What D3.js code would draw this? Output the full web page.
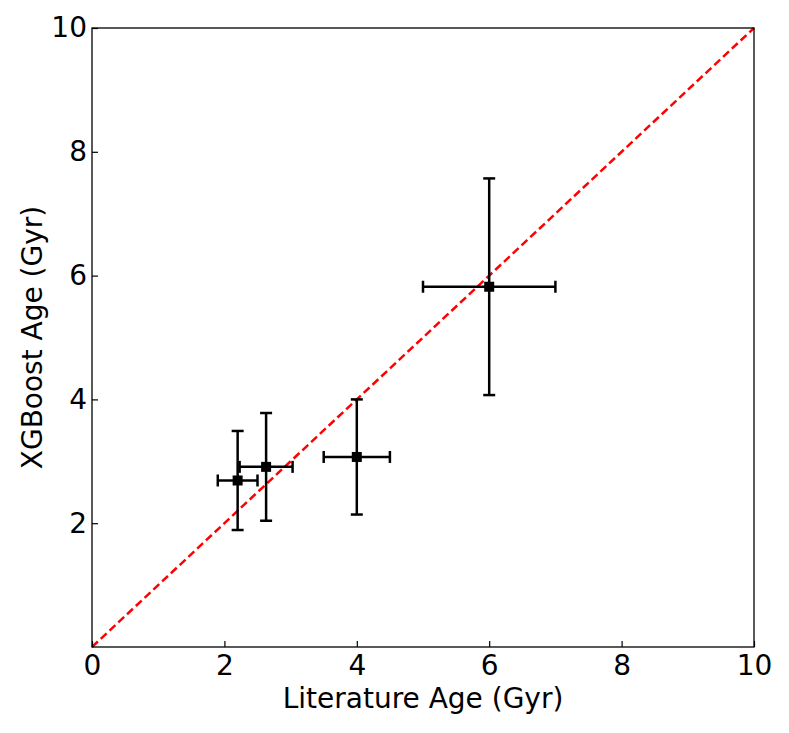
<!DOCTYPE html>
<html><head><meta charset="utf-8">
<script src="https://cdn.jsdelivr.net/npm/d3@7"></script>
<style>body{margin:0;background:#fff}svg{display:block}text{font-family:"DejaVu Sans",sans-serif;fill:#000}</style>
</head><body>
<script>
const litAge = [2.2, 2.63, 4.0, 6.0];
const litErr = [0.3, 0.4, 0.5, 1.0];
const xgbAge = [2.69, 2.91, 3.07, 5.82];
const xgbErr = [0.8, 0.87, 0.93, 1.75];
const xTicks = [0, 2, 4, 6, 8, 10];
const yTicks = [2, 4, 6, 8, 10];
const minorTicks = d3.range(0, 10.01, 0.5);

const W = 789, H = 733;
const m = {l: 92, t: 28, r: 35, b: 86};
const svg = d3.select("body").append("svg").attr("width", W).attr("height", H);
const x = d3.scaleLinear().domain([0, 10]).range([m.l, W - m.r]);
const y = d3.scaleLinear().domain([0, 10]).range([H - m.b, m.t]);

// 1:1 line
svg.append("line").attr("x1", x(0)).attr("y1", y(0)).attr("x2", x(10)).attr("y2", y(10))
  .attr("stroke", "#ff0000").attr("stroke-width", 2.5).attr("stroke-dasharray", "8,4");

const pts = litAge.map((v, i) => ({x: v, xe: litErr[i], y: xgbAge[i], ye: xgbErr[i]}));
const g = svg.append("g").attr("stroke", "#000").attr("stroke-width", 2.5);
const cap = 6;
pts.forEach(p => {
  g.append("line").attr("x1", x(p.x - p.xe)).attr("x2", x(p.x + p.xe)).attr("y1", y(p.y)).attr("y2", y(p.y));
  g.append("line").attr("x1", x(p.x)).attr("x2", x(p.x)).attr("y1", y(p.y - p.ye)).attr("y2", y(p.y + p.ye));
  [p.x - p.xe, p.x + p.xe].forEach(v => g.append("line").attr("x1", x(v)).attr("x2", x(v)).attr("y1", y(p.y) - cap).attr("y2", y(p.y) + cap));
  [p.y - p.ye, p.y + p.ye].forEach(v => g.append("line").attr("y1", y(v)).attr("y2", y(v)).attr("x1", x(p.x) - cap).attr("x2", x(p.x) + cap));
});
svg.append("g").selectAll("rect").data(pts).join("rect")
  .attr("x", d => x(d.x) - 5).attr("y", d => y(d.y) - 5).attr("width", 10).attr("height", 10).attr("fill", "#000");

// axes (ticks inward)
const xb = svg.append("g").attr("transform", `translate(0,${H - m.b})`);
xb.call(d3.axisBottom(x).tickValues(minorTicks).tickSize(-3).tickFormat(""));
xb.call(d3.axisBottom(x).tickValues(xTicks).tickSize(-6).tickPadding(8).tickFormat(d3.format("d")));
const yb = svg.append("g").attr("transform", `translate(${m.l},0)`);
yb.call(d3.axisLeft(y).tickValues(minorTicks.filter(v => v > 0)).tickSize(-3).tickFormat(""));
yb.call(d3.axisLeft(y).tickValues(yTicks).tickSize(-6).tickPadding(5).tickFormat(d3.format("d")));
svg.selectAll(".domain").remove();
svg.selectAll(".tick line").attr("stroke", "#000").attr("stroke-width", 1.2);
svg.selectAll(".tick text").attr("font-size", 28).attr("font-family", "DejaVu Sans");

svg.append("rect").attr("x", m.l).attr("y", m.t).attr("width", W - m.l - m.r).attr("height", H - m.t - m.b)
  .attr("fill", "none").attr("stroke", "#000").attr("stroke-width", 1.3);

svg.append("text").attr("x", x(5)).attr("y", 708).attr("text-anchor", "middle").attr("font-size", 28)
  .text("Literature Age (Gyr)");
svg.append("text").attr("transform", `translate(42,${y(5)}) rotate(-90)`).attr("text-anchor", "middle").attr("font-size", 28)
  .text("XGBoost Age (Gyr)");
</script>
</body></html>
